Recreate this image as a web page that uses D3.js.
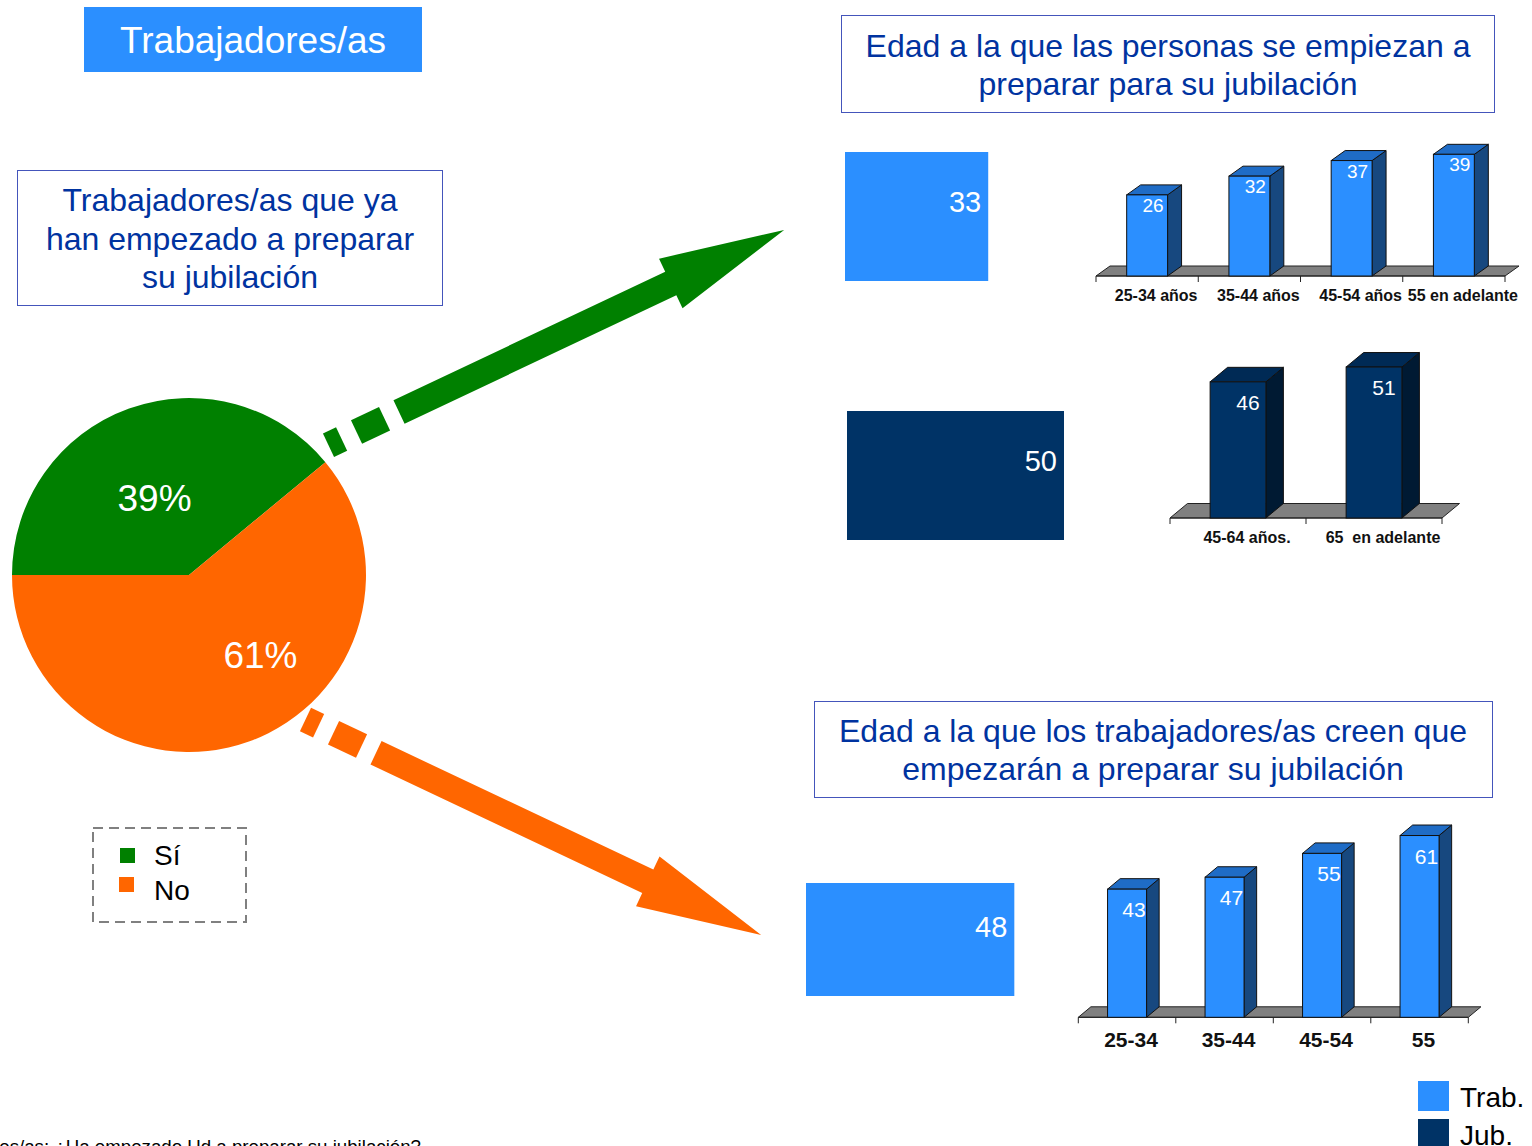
<!DOCTYPE html>
<html>
<head>
<meta charset="utf-8">
<script src="https://cdn.jsdelivr.net/npm/d3@7"></script>
<style>
  body { margin: 0; background: #fff; }
  svg { display: block; font-family: "Liberation Sans", Arial, sans-serif; }
</style>
</head>
<body>
<div class="chart"></div>
<script>
// data
var pieCats = ["Sí", "No"];
var pieVals = [39, 61];

var trabCats = ["25-34 años", "35-44 años", "45-54 años", "55 en adelante"];
var trabVals = [26, 32, 37, 39];

var jubCats = ["45-64 años.", "65  en adelante"];
var jubVals = [46, 51];

var creenCats = ["25-34", "35-44", "45-54", "55"];
var creenVals = [43, 47, 55, 61];

var mediaCats = ["Trab.", "Jub.", "Trab. creen"];
var mediaVals = [33, 50, 48];

var width = 1532,
    height = 1146;

var lightBlue = "#2B8FFF", lightTop = "#1F6CC6", lightSide = "#17487F";
var darkBlue = "#003366", darkTop = "#002A55", darkSide = "#001A33";
var green = "#008000", orange = "#FF6600";
var boxText = "#0033A0", boxLine = "#4455BB";

var svg = d3.select(".chart")
    .append("svg")
    .attr("width", width)
    .attr("height", height);

svg.append("rect").attr("width", width).attr("height", height).attr("fill", "#fff");

// ---- footnote (cut off at the left and bottom edge, as in the original)
svg.append("text")
    .attr("x", 421)
    .attr("y", 1153)
    .attr("text-anchor", "end")
    .style("font-size", "18.7px")
    .attr("fill", "#000")
    .text("Trabajadores/as: ¿Ha empezado Ud a preparar su jubilación?");

// ---- title boxes
svg.append("rect")
    .attr("x", 84).attr("y", 7)
    .attr("width", 338).attr("height", 65)
    .attr("fill", lightBlue);
svg.append("text")
    .attr("x", 253).attr("y", 53)
    .attr("text-anchor", "middle")
    .attr("fill", "#fff")
    .style("font-size", "37px")
    .text("Trabajadores/as");

function textBox(x, y, w, h, lines, baselines, cx) {
    svg.append("rect")
        .attr("x", x).attr("y", y)
        .attr("width", w).attr("height", h)
        .attr("fill", "#fff")
        .attr("stroke", boxLine)
        .attr("stroke-width", 1);
    svg.selectAll(null)
        .data(lines)
        .enter()
        .append("text")
        .attr("x", cx)
        .attr("y", function (d, i) { return baselines[i]; })
        .attr("text-anchor", "middle")
        .attr("fill", boxText)
        .style("font-size", "32px")
        .text(function (d) { return d; });
}

textBox(17.5, 170.5, 425, 135,
    ["Trabajadores/as que ya", "han empezado a preparar", "su jubilación"],
    [211, 250, 288], 230);
textBox(841.5, 15.5, 653, 97,
    ["Edad a la que las personas se empiezan a", "preparar para su jubilación"],
    [57, 95], 1168);
textBox(814.5, 701.5, 678, 96,
    ["Edad a la que los trabajadores/as creen que", "empezarán a preparar su jubilación"],
    [742, 780], 1153);

// ---- pie
var pieCx = 189, pieCy = 575, pieR = 177;
var pieColors = d3.scaleOrdinal().domain(pieCats).range([green, orange]);

var pie = d3.pie()
    .sort(null)
    .startAngle(-Math.PI / 2)
    .endAngle(3 * Math.PI / 2);

var arc = d3.arc().innerRadius(0).outerRadius(pieR);
var labelArc = d3.arc().innerRadius(90).outerRadius(90);
var labelNudge = [[-4, 8], [41, -5]];

var pieData = pie(pieVals);

var gPie = svg.append("g").attr("transform", "translate(" + pieCx + "," + pieCy + ")");
gPie.selectAll("path")
    .data(pieData)
    .enter()
    .append("path")
    .attr("d", arc)
    .attr("fill", function (d, i) { return pieColors(pieCats[i]); });

gPie.selectAll("text")
    .data(pieData)
    .enter()
    .append("text")
    .attr("x", function (d, i) { return labelArc.centroid(d)[0] + labelNudge[i][0]; })
    .attr("y", function (d, i) { return labelArc.centroid(d)[1] + labelNudge[i][1] + 13; })
    .attr("text-anchor", "middle")
    .attr("fill", "#fff")
    .style("font-size", "37px")
    .text(function (d) { return d.value + "%"; });

// ---- pie legend
svg.append("rect")
    .attr("x", 93).attr("y", 828)
    .attr("width", 153).attr("height", 94)
    .attr("fill", "none")
    .attr("stroke", "#808080")
    .attr("stroke-width", 2)
    .attr("stroke-dasharray", "10,6");

var pieLeg = svg.selectAll(".pieleg")
    .data(pieCats)
    .enter()
    .append("g")
    .attr("class", "pieleg");
pieLeg.append("rect")
    .attr("x", function (d, i) { return 120 - i; })
    .attr("y", function (d, i) { return 848 + i * 29; })
    .attr("width", 15).attr("height", 15)
    .attr("fill", function (d) { return pieColors(d); });
pieLeg.append("text")
    .attr("x", 154)
    .attr("y", function (d, i) { return 865 + i * 35; })
    .style("font-size", "28px")
    .attr("fill", "#000")
    .text(function (d) { return d; });

// ---- arrows
function arrow(ox, oy, angle, color) {
    var half = 13, headHalf = 27.5;
    var g = svg.append("g")
        .attr("transform", "translate(" + ox + "," + oy + ") rotate(" + angle + ")")
        .attr("fill", color);
    g.append("rect").attr("x", 0).attr("y", -half).attr("width", 14.5).attr("height", 2 * half);
    g.append("rect").attr("x", 31).attr("y", -half).attr("width", 31).attr("height", 2 * half);
    g.append("path")
        .attr("d", "M78," + (-half) + "L378.6," + (-half) + "L378.6," + (-headHalf) +
            "L504,0L378.6," + headHalf + "L378.6," + half + "L78," + half + "Z");
}
arrow(328.5, 445.3, -25.3, green);
arrow(305.5, 719.5, 25.3, orange);

// ---- average bars (flat)
var xMedia = d3.scaleLinear().domain([0, 50]).range([0, 217]);
var mediaBoxes = [
    { x: 845, y: 152, h: 129, fill: lightBlue },
    { x: 847, y: 411, h: 129, fill: darkBlue },
    { x: 806, y: 883, h: 113, fill: lightBlue }
];
mediaBoxes.forEach(function (b, i) {
    var w = xMedia(mediaVals[i]);
    svg.append("rect")
        .attr("x", b.x).attr("y", b.y)
        .attr("width", w).attr("height", b.h)
        .attr("fill", b.fill);
    svg.append("text")
        .attr("x", b.x + w - 7)
        .attr("y", b.y + b.h * 0.39 + 10)
        .attr("text-anchor", "end")
        .attr("fill", "#fff")
        .style("font-size", "29px")
        .text(mediaVals[i]);
});

// ---- 3D column charts
function bars3d(cats, vals, o) {
    var x = d3.scaleBand()
        .domain(cats)
        .range([o.x0, o.x1])
        .paddingInner(o.pad)
        .paddingOuter(o.pad / 2);
    var y = d3.scaleLinear().domain(o.domain).range([o.y0, o.yTop]);
    var dx = o.dx, dy = o.dy, y0 = o.y0;
    var g = svg.append("g");

    // floor
    g.append("path")
        .attr("d", "M" + o.x0 + "," + y0 + "L" + (o.x0 + dx) + "," + (y0 + dy) +
            "L" + (o.x1 + dx) + "," + (y0 + dy) + "L" + o.x1 + "," + y0 + "Z")
        .attr("fill", "#808080")
        .attr("stroke", "#222")
        .attr("stroke-width", 1);

    // axis line and ticks
    var step = x.step();
    g.append("line")
        .attr("x1", o.x0).attr("x2", o.x1)
        .attr("y1", y0).attr("y2", y0)
        .attr("stroke", "#222");
    g.selectAll(".tk")
        .data(d3.range(cats.length + 1))
        .enter()
        .append("line")
        .attr("x1", function (i) { return o.x0 + i * step; })
        .attr("x2", function (i) { return o.x0 + i * step; })
        .attr("y1", y0).attr("y2", y0 + 6)
        .attr("stroke", "#222");

    var bar = g.selectAll(".bar")
        .data(vals)
        .enter()
        .append("g");

    bar.append("path")
        .attr("d", function (d, i) {
            var bx = x(cats[i]) + x.bandwidth(), t = y(d);
            return "M" + bx + "," + t + "L" + (bx + dx) + "," + (t + dy) +
                "L" + (bx + dx) + "," + (y0 + dy) + "L" + bx + "," + y0 + "Z";
        })
        .attr("fill", o.side).attr("stroke", "#111").attr("stroke-width", 1);

    bar.append("path")
        .attr("d", function (d, i) {
            var bx = x(cats[i]), bw = x.bandwidth(), t = y(d);
            return "M" + bx + "," + t + "L" + (bx + dx) + "," + (t + dy) +
                "L" + (bx + bw + dx) + "," + (t + dy) + "L" + (bx + bw) + "," + t + "Z";
        })
        .attr("fill", o.top).attr("stroke", "#111").attr("stroke-width", 1);

    bar.append("rect")
        .attr("x", function (d, i) { return x(cats[i]); })
        .attr("y", function (d) { return y(d); })
        .attr("width", x.bandwidth())
        .attr("height", function (d) { return y0 - y(d); })
        .attr("fill", o.front).attr("stroke", "#111").attr("stroke-width", 1);

    bar.append("text")
        .attr("x", function (d, i) { return x(cats[i]) + x.bandwidth() / 2 + o.valDx; })
        .attr("y", function (d) { return y(d) + o.valDy; })
        .attr("text-anchor", "middle")
        .attr("fill", "#fff")
        .style("font-size", o.valSize + "px")
        .text(function (d) { return d; });

    g.selectAll(".cat")
        .data(cats)
        .enter()
        .append("text")
        .attr("x", function (d) { return x(d) + x.bandwidth() / 2 + o.catDx; })
        .attr("y", o.catY)
        .attr("text-anchor", "middle")
        .attr("fill", "#111")
        .style("font-size", o.catSize + "px")
        .style("font-weight", "bold")
        .style("white-space", "pre")
        .text(function (d) { return d; });
}

bars3d(trabCats, trabVals, {
    x0: 1096, x1: 1505, y0: 276, yTop: 151.2, domain: [0, 40], pad: 0.6,
    dx: 14, dy: -10, front: lightBlue, top: lightTop, side: lightSide,
    valDx: 6, valDy: 17, valSize: 19, catDx: 9, catY: 301, catSize: 16
});

bars3d(jubCats, jubVals, {
    x0: 1170, x1: 1442, y0: 518, yTop: 370, domain: [0, 50], pad: 0.59,
    dx: 17.5, dy: -14.5, front: darkBlue, top: darkTop, side: darkSide,
    valDx: 10, valDy: 28, valSize: 21, catDx: 9, catY: 543, catSize: 16
});

bars3d(creenCats, creenVals, {
    x0: 1078.3, x1: 1468.3, y0: 1017.3, yTop: 838.5, domain: [0, 60], pad: 0.6,
    dx: 12.6, dy: -10.5, front: lightBlue, top: lightTop, side: lightSide,
    valDx: 7, valDy: 28, valSize: 21, catDx: 4, catY: 1047, catSize: 21
});

// ---- bottom right legend
var legItems = [["Trab.", lightBlue], ["Jub.", darkBlue]];
var leg = svg.selectAll(".leg")
    .data(legItems)
    .enter()
    .append("g")
    .attr("transform", function (d, i) { return "translate(1418," + (1081 + i * 38) + ")"; });
leg.append("rect")
    .attr("width", 31).attr("height", 30)
    .attr("fill", function (d) { return d[1]; });
leg.append("text")
    .attr("x", 42).attr("y", 26)
    .style("font-size", "28px")
    .attr("fill", "#000")
    .text(function (d) { return d[0]; });
</script>
</body>
</html>
